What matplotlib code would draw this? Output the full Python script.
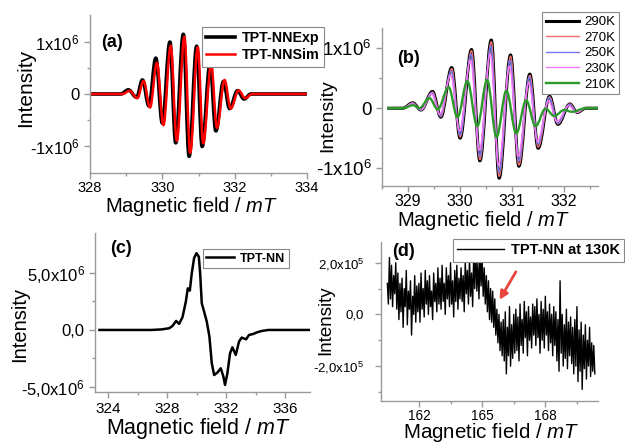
import numpy as np
import matplotlib
matplotlib.use("Agg")
import matplotlib.pyplot as plt
from matplotlib.path import Path
from matplotlib.patches import PathPatch

plt.rcParams['font.family'] = ['Liberation Sans', 'DejaVu Sans']
plt.rcParams['mathtext.fontset'] = 'custom'
plt.rcParams['mathtext.rm'] = 'Liberation Sans'
plt.rcParams['mathtext.it'] = 'Liberation Sans:italic'
plt.rcParams['mathtext.default'] = 'regular'

# ---------------- (a) experimental vs simulated, extrema (x1e6) ----------------
a_exp_field = [328.0, 328.85, 329.06, 329.29, 329.45, 329.63, 329.82, 330.00, 330.21, 330.37,
               330.58, 330.74, 330.95, 331.10, 331.32, 331.48, 331.69, 331.86, 332.08, 332.26,
               332.45, 334.0]
a_exp_val = [0, 0, 0.08, -0.065, 0.27, -0.23, 0.69, -0.56, 1.00, -0.94,
             1.15, -1.20, 0.92, -1.01, 0.58, -0.71, 0.24, -0.28, 0.064, -0.096,
             0, 0]
a_sim_field = [328.0, 328.9, 329.09, 329.31, 329.48, 329.66, 329.85, 330.03, 330.23, 330.40,
               330.61, 330.77, 330.98, 331.13, 331.35, 331.51, 331.72, 331.89, 332.11, 332.29,
               332.48, 334.0]
a_sim_val = [0, 0, 0.06, -0.08, 0.25, -0.26, 0.60, -0.60, 0.93, -0.90,
             1.10, -1.13, 0.90, -0.95, 0.58, -0.65, 0.27, -0.28, 0.07, -0.08,
             0, 0]

# ---------------- (b) temperature series, extrema (x1e6) ----------------
b_labels = ['290K', '270K', '250K', '230K', '210K']
b_colors = ['black', '#f07070', '#7878f0', '#ff78ff', '#2a9a2a']
b_widths = [2.2, 1.0, 1.0, 1.0, 1.7]

b290_field = [328.6, 328.9, 329.09, 329.25, 329.47, 329.63, 329.84, 330.00, 330.22, 330.38,
              330.60, 330.75, 330.97, 331.13, 331.34, 331.50, 331.72, 331.88, 332.11, 332.25,
              332.42, 332.65]
b290_val = [0, 0, 0.09, -0.03, 0.28, -0.15, 0.68, -0.50, 0.98, -0.88,
            1.14, -1.17, 0.89, -0.97, 0.57, -0.67, 0.20, -0.27, 0.07, -0.07,
            0, 0]
b270_field = b290_field
b270_val = [0, 0, 0.09, -0.03, 0.27, -0.14, 0.66, -0.48, 0.96, -0.86,
            1.11, -1.14, 0.87, -0.95, 0.55, -0.65, 0.19, -0.26, 0.07, -0.07,
            0, 0]
b250_field = [328.6, 328.9, 329.09, 329.25, 329.46, 329.62, 329.83, 330.00, 330.21, 330.38,
              330.59, 330.75, 330.96, 331.13, 331.33, 331.50, 331.71, 331.88, 332.10, 332.25,
              332.42, 332.65]
b250_val = [0, 0, 0.08, -0.03, 0.26, -0.13, 0.62, -0.45, 0.90, -0.80,
            1.04, -1.07, 0.80, -0.88, 0.52, -0.60, 0.18, -0.25, 0.06, -0.06,
            0, 0]
b230_field = [328.6, 328.9, 329.08, 329.26, 329.45, 329.61, 329.82, 329.99, 330.20, 330.37,
              330.58, 330.74, 330.95, 331.12, 331.32, 331.49, 331.70, 331.86, 332.09, 332.23,
              332.42, 332.65]
b230_val = [0, 0, 0.07, -0.02, 0.24, -0.10, 0.55, -0.38, 0.80, -0.70,
            0.90, -0.95, 0.70, -0.80, 0.42, -0.55, 0.12, -0.22, 0.04, -0.07,
            0, 0]
b210_field = [328.6, 328.9, 329.10, 329.22, 329.41, 329.57, 329.78, 329.95, 330.14, 330.33,
              330.52, 330.70, 330.89, 331.08, 331.27, 331.45, 331.64, 331.81, 332.00, 332.15,
              332.42, 332.65]
b210_val = [0, 0, 0.05, 0.0, 0.17, -0.02, 0.35, -0.15, 0.45, -0.30,
            0.47, -0.48, 0.29, -0.42, 0.13, -0.30, -0.01, -0.13, -0.03, -0.06,
            0, 0]

# ---------------- (c) powder spectrum (x1e6) ----------------
c_field = [323.4, 326.96, 327.64, 328.14, 328.36, 328.61, 328.81, 329.04, 329.27, 329.40,
           329.54, 329.67, 329.83, 329.99, 330.15, 330.24, 330.35, 330.49, 330.69, 330.87,
           331.03, 331.19, 331.41, 331.64, 331.82, 331.93, 332.09, 332.27, 332.43, 332.66,
           332.88, 333.06, 333.36, 333.56, 333.85, 334.12, 334.42, 334.87, 337.7]
c_val = [0, 0, 0.05, 0.15, 0.35, 0.79, 0.53, 1.11, 2.49, 3.65,
         3.45, 4.97, 6.3, 6.73, 6.43, 4.97, 2.34, 1.7, 0.73, -0.58,
         -2.92, -3.95, -3.74, -3.36, -4.1, -4.82, -3.8, -2.05, -1.52, -2.19,
         -1.02, -0.67, -0.82, -0.44, -0.35, -0.2, -0.09, 0, 0]

# ---------------- (d) 130K, noisy (x1e5), sampled every 0.05 mT from 160.5 ----------------
d_start, d_step = 160.5, 0.05
d_val = [1.2, 0.4, 2.2, 0.6, 1.9, 0.3, 1.5, 0.8, 2.0, 0.2,
         1.6, -0.2, 1.2, 0.1, 1.4, -0.5, 1.0, 0.3, 1.7, -0.4, 0.9, 0.2, 1.3, -0.8, 0.7, 0.0, 1.5, -0.3, 1.1, 0.1,
         1.2, -0.3, 1.6, 0.2, 1.0, -0.1, 1.7, 0.4, 1.3, 0.0, 1.5, 0.3, 0.9, -0.2, 1.6, 0.5, 1.2, 0.1, 1.8, 0.4,
         1.4, 0.2, 1.9, 0.5, 1.2, 0.0, 1.8, 0.6, 1.5, 0.3, 2.0, 0.4, 1.3, -0.1, 1.7, 0.5, 1.9, 0.2, 1.4, 0.6,
         1.8, 0.5, 1.5, 0.1, 2.1, 0.8, 1.7, 0.4, 2.2, 0.7, 1.6, 0.3, 2.3, 1.0, 2.5, 0.9, 2.0, 0.6, 2.4, 1.1,
         2.2, 0.7, 1.8, 0.4, 1.5, 0.1, 1.3, -0.2, 1.0, -0.3,
         0.9, -0.5, 0.6, -0.8, 0.2, -1.1, 0.0, -1.4, -0.3, -1.6,
         -0.2, -1.8, 0.1, -2.3, -0.5, -1.6, 0.3, -2.0, -0.4, -1.7, 0.0, -1.5,
         0.2, -1.4, -0.1, -1.8, 0.4, -1.2, -0.2, -1.5, 0.5, -0.9, 0.1, -1.6, 0.3, -1.0, -0.1, -1.3, 0.4, -0.8,
         0.3, -1.2, 0.6, -0.9, 0.0, -1.5, 0.5, -1.0, 0.2, -1.3, 0.7, -0.8, 0.1, -1.4, 0.4, -1.1, 0.0, -1.6, 0.3, -1.2,
         0.1, -1.8, -0.2, -2.2, 1.3, -1.5, 0.0, -2.0, -0.4, -1.7, 0.2, -2.1, -0.3, -1.6, -0.1, -1.9,
         -0.5, -2.3, -0.2, -2.0, 0.3, -2.6, -0.6, -2.2, -0.3, -2.9, -0.8, -2.1, -0.4, -2.5, -1.0, -2.0,
         -0.5, -2.4, -1.1, -2.2, -1.2, -2.3]

XLABEL = r'Magnetic field / $\mathit{mT}$'
SPINE = '#9a9a9a'
W, H = 625, 443


def style(ax):
    for s in ['top', 'right']:
        ax.spines[s].set_visible(False)
    for s in ['left', 'bottom']:
        ax.spines[s].set_color(SPINE)
        ax.spines[s].set_linewidth(1.0)
    ax.tick_params(which='both', direction='out', color=SPINE, width=1.0)
    ax.tick_params(which='major', length=4)
    ax.tick_params(which='minor', length=2.5)


def smooth_line(ax, xs, ys, scale, color, lw, label):
    # cubic segments between read-off extrema, flat at each extremum
    pts = [(x, y * scale) for x, y in zip(xs, ys)]
    verts = [pts[0]]
    codes = [Path.MOVETO]
    for (x0, y0), (x1, y1) in zip(pts[:-1], pts[1:]):
        d = (x1 - x0) * 0.36
        verts += [(x0 + d, y0), (x1 - d, y1), (x1, y1)]
        codes += [Path.CURVE4] * 3
    ax.add_patch(PathPatch(Path(verts, codes), fill=False, edgecolor=color, lw=lw,
                           joinstyle='round'))
    ax.plot([], [], color=color, lw=lw, label=label)


def legend(ax, spacing=0.15, **kw):
    leg = ax.legend(fancybox=False, edgecolor='#888888', framealpha=1,
                    borderpad=0.3, labelspacing=spacing,
                    borderaxespad=0, **kw)
    leg.get_frame().set_linewidth(0.8)
    return leg


def labels(fig, ax, xl, yl, xsize, ysize):
    # xl: (center x, top y) in pixels, yl: (right x, center y) in pixels
    ax.set_xlabel(XLABEL, fontsize=xsize)
    ax.set_ylabel('Intensity', fontsize=ysize)
    ax.xaxis.set_label_coords(xl[0] / W, 1 - xl[1] / H, transform=fig.transFigure)
    ax.yaxis.set_label_coords(yl[0] / W, 1 - yl[1] / H, transform=fig.transFigure)


fig = plt.figure(figsize=(W / 100, H / 100), dpi=100)


def box(l, t, r, b):
    return [l / W, 1 - b / H, (r - l) / W, (b - t) / H]


# (a)
ax = fig.add_axes(box(90, 15, 307, 173))
style(ax)
smooth_line(ax, a_exp_field, a_exp_val, 1e6, 'black', 2.6, 'TPT-NNExp')
smooth_line(ax, a_sim_field, a_sim_val, 1e6, '#ff0000', 1.8, 'TPT-NNSim')
ax.set_xlim(328, 334)
ax.set_ylim(-1.52e6, 1.52e6)
ax.set_xticks([328, 330, 332, 334])
ax.set_xticks([329, 331, 333], minor=True)
ax.set_yticks([-1e6, 0, 1e6], labels=[r'-1x10$^6$', '0', r'1x10$^6$'])
ax.set_yticks([-0.5e6, 0.5e6], minor=True)
ax.tick_params(axis='x', labelsize=10.5, pad=2)
ax.tick_params(axis='y', labelsize=12)
labels(fig, ax, (192, 195), (35, 88), 14.5, 15)
ax.text(0.05, 0.80, '(a)', transform=ax.transAxes, fontsize=13, fontweight='bold')
legend(ax, spacing=0.22, loc='upper left', bbox_to_anchor=(0.515, 0.924),
       prop={'weight': 'bold', 'size': 10.3}, handlelength=2.0, handletextpad=0.5)

# (b)
ax = fig.add_axes(box(382, 28, 598, 186))
style(ax)
b_fields = [b290_field, b270_field, b250_field, b230_field, b210_field]
b_vals = [b290_val, b270_val, b250_val, b230_val, b210_val]
for f, v, lab, col, lw in zip(b_fields, b_vals, b_labels, b_colors, b_widths):
    smooth_line(ax, f, v, 1e6, col, lw, lab)
ax.set_xlim(328.6, 332.65)
ax.set_ylim(-1.3e6, 1.34e6)
ax.set_xticks([329, 330, 331, 332])
ax.set_xticks([328.5, 329.5, 330.5, 331.5, 332.5], minor=True)
ax.set_yticks([-1e6, 0, 1e6], labels=[r'-1x10$^6$', '0', r'1x10$^6$'])
ax.set_yticks([-0.5e6, 0.5e6], minor=True)
ax.tick_params(axis='x', labelsize=11.5, pad=1.5)
ax.tick_params(axis='y', labelsize=13.5)
labels(fig, ax, (484, 209), (336, 116), 14.5, 14)
ax.text(0.07, 0.78, '(b)', transform=ax.transAxes, fontsize=13, fontweight='bold')
legend(ax, spacing=0.25, loc='upper left', bbox_to_anchor=(0.74, 1.10), prop={'size': 9.5},
       handlelength=2.5, handletextpad=0.4)

# (c)
ax = fig.add_axes(box(95, 233, 310, 392))
style(ax)
ax.plot(c_field, np.array(c_val) * 1e6, color='black', lw=1.8, label='TPT-NN', solid_joinstyle='round')
ax.set_xlim(323.1, 337.7)
ax.set_ylim(-5.44e6, 8.5e6)
ax.set_xticks([324, 328, 332, 336])
ax.set_xticks([326, 330, 334], minor=True)
ax.set_yticks([-5e6, 0, 5e6], labels=[r'-5,0x10$^6$', '0,0', r'5,0x10$^6$'])
ax.set_yticks([-2.5e6, 2.5e6], minor=True)
ax.tick_params(axis='x', labelsize=11)
ax.tick_params(axis='y', labelsize=12)
labels(fig, ax, (198, 416), (29, 324), 15.5, 14.5)
ax.text(0.07, 0.875, '(c)', transform=ax.transAxes, fontsize=13, fontweight='bold')
legend(ax, loc='upper left', bbox_to_anchor=(0.5, 0.9), prop={'weight': 'bold', 'size': 9},
       handlelength=2.2, handletextpad=0.5)

# (d)
ax = fig.add_axes(box(381, 242, 598, 401))
style(ax)
d_field = d_start + d_step * np.arange(len(d_val))
ax.plot(d_field, np.array(d_val) * 1e5, color='black', lw=1.0, label='TPT-NN at 130K')
ax.set_xlim(160.2, 170.5)
ax.set_ylim(-3.35e5, 2.8e5)
ax.set_xticks([162, 165, 168])
ax.set_xticks([163.5, 166.5, 169.5], minor=True)
ax.set_yticks([-2e5, 0, 2e5], labels=[r'-2,0x10$^5$', '0,0', r'2,0x10$^5$'])
ax.set_yticks([-3e5, -1e5, 1e5], minor=True)
ax.tick_params(axis='x', labelsize=9.8, pad=1.5)
ax.tick_params(axis='y', labelsize=9.5, pad=8)
labels(fig, ax, (491, 421), (334, 320), 14.8, 13.5)
ax.text(0.05, 0.91, '(d)', transform=ax.transAxes, fontsize=13, fontweight='bold')
legend(ax, loc='upper left', bbox_to_anchor=(0.33, 1.02), prop={'weight': 'bold', 'size': 10.5},
       handlelength=3.2, handletextpad=0.5)
ax.annotate('', xy=(165.76, 0.47e5), xytext=(166.67, 1.74e5),
            arrowprops=dict(arrowstyle='-|>', color='#e8453c', lw=2, mutation_scale=12))

fig.savefig('out.png', dpi=100)
